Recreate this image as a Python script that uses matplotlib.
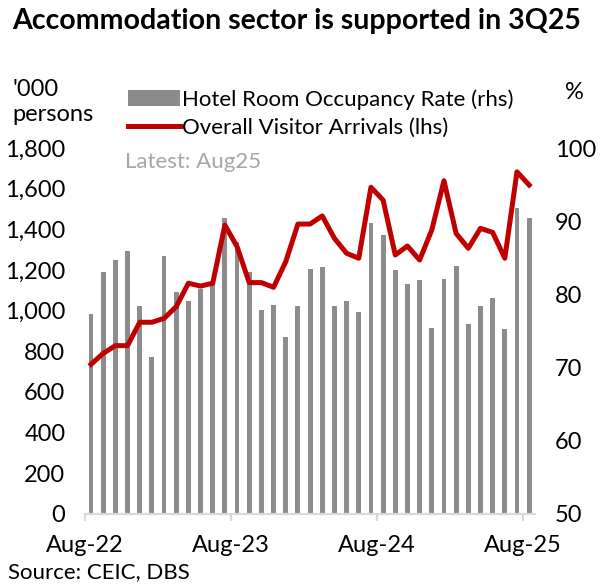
import matplotlib.pyplot as plt
import numpy as np
import pandas as pd

plt.rcParams['font.family'] = ['Lato', 'DejaVu Sans']

# --- DATA ---
months = pd.period_range('2022-08', '2025-08', freq='M').strftime('%b-%y').tolist()
occupancy = [77.3, 83.0, 84.7, 85.9, 78.4, 71.5, 85.2, 80.3, 79.1, 80.8, 81.4, 90.4,
             87.2, 83.0, 77.9, 78.6, 74.2, 78.4, 83.5, 83.7, 78.4, 79.1, 77.6, 89.8,
             88.1, 83.3, 81.4, 82.0, 75.4, 82.1, 83.9, 76.0, 78.4, 79.5, 75.3, 91.8,
             90.5]
arrivals = [736, 790, 828, 828, 943, 943, 962, 1020, 1135, 1121, 1135, 1421,
            1315, 1138, 1138, 1115, 1241, 1426, 1426, 1466, 1356, 1282, 1258, 1607,
            1544, 1274, 1318, 1249, 1397, 1639, 1380, 1307, 1405, 1385, 1258, 1683,
            1618]
tick_months = ['Aug-22', 'Aug-23', 'Aug-24', 'Aug-25']

RED = '#C00000'
GREY = '#8C8C8C'
FS = 16
TICK_FS = 17

fig = plt.figure(figsize=(6.11, 5.86), dpi=100)
ax = fig.add_axes([0.139, 0.1229, 0.737, 0.6245])
ax2 = ax.twinx()

x = np.arange(len(months))

# bars on the right axis, line on the left axis drawn on top
bars = ax2.bar(x, occupancy, width=0.4, color=GREY, label='Hotel Room Occupancy Rate (rhs)')
line, = ax.plot(x, arrivals, color=RED, lw=3.6, label='Overall Visitor Arrivals (lhs)')
ax.set_zorder(ax2.get_zorder() + 1)
ax.patch.set_visible(False)

ax.set_ylim(0, 1800)
ax.set_yticks(np.arange(0, 1801, 200))
ax.set_yticklabels([f'{v:,}' for v in range(0, 1801, 200)])
ax2.set_ylim(50, 100)
ax2.set_yticks(np.arange(50, 101, 10))
ax.set_xlim(-0.5, 36.5)

pos = [months.index(m) - 0.5 for m in tick_months]
ax.set_xticks(pos)
ax.set_xticklabels(tick_months)

for a in (ax, ax2):
    for s in ['top', 'left', 'right']:
        a.spines[s].set_visible(False)
    a.spines['bottom'].set_color('#D9D9D9')
    a.spines['bottom'].set_linewidth(1.5)
    a.tick_params(axis='y', length=0, labelsize=TICK_FS)
ax.tick_params(axis='y', pad=14)
ax2.tick_params(axis='y', pad=14)
ax.tick_params(axis='x', length=5, width=1.5, color='#D9D9D9', labelsize=TICK_FS, pad=10)

ax.legend([bars, line], [bars.get_label(), line.get_label()], loc='upper left',
          bbox_to_anchor=(0.077, 1.185), frameon=False, fontsize=FS,
          handlelength=2.3, handletextpad=0.1, labelspacing=0.35, borderaxespad=0)

fig.text(0.02, 0.965, 'Accommodation sector is supported in 3Q25', fontsize=20.5,
         fontweight='bold', va='center')
fig.text(0.02, 0.848, "'000", fontsize=TICK_FS, va='center')
fig.text(0.02, 0.805, 'persons', fontsize=TICK_FS, va='center')
fig.text(0.925, 0.842, '%', fontsize=TICK_FS, va='center')
fig.text(0.205, 0.723, 'Latest: Aug25', fontsize=FS, color='#A6A6A6', va='center')
fig.text(0.013, 0.023, 'Source: CEIC, DBS', fontsize=FS, va='center')

fig.savefig('out.png', dpi=100)
